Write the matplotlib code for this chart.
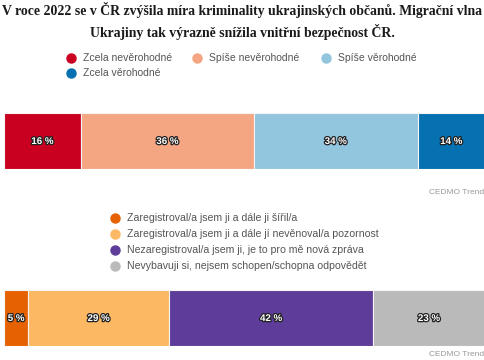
import numpy as np
import matplotlib
matplotlib.use("Agg")
from matplotlib import pyplot as plt
import matplotlib.patheffects as pe

W, H = 485, 360

title = ("V roce 2022 se v ČR zvýšila míra kriminality ukrajinských občanů. Migrační vlna\n"
         "Ukrajiny tak výrazně snížila vnitřní bezpečnost ČR.")

cats1 = ["Zcela nevěrohodné", "Spíše nevěrohodné", "Spíše věrohodné", "Zcela věrohodné"]
vals1 = [16, 36, 34, 14]
colors1 = ["#ca0020", "#f4a582", "#92c5de", "#0571b0"]

cats2 = ["Zaregistroval/a jsem ji a dále ji šířil/a",
         "Zaregistroval/a jsem ji a dále jí nevěnoval/a pozornost",
         "Nezaregistroval/a jsem ji, je to pro mě nová zpráva",
         "Nevybavuji si, nejsem schopen/schopna odpovědět"]
vals2 = [5, 29, 42, 23]
colors2 = ["#e66101", "#fdb863", "#5e3c99", "#bababa"]

source = "CEDMO Trend"

plt.rcParams['font.family'] = ['Liberation Sans', 'DejaVu Sans']

fig = plt.figure(figsize=(W / 100, H / 100), dpi=100)

# overlay axes in pixel coordinates for text and legends
ov = fig.add_axes([0, 0, 1, 1])
ov.set_xlim(0, W)
ov.set_ylim(H, 0)
ov.axis("off")

ov.text(W / 2, 21, title, ha="center", va="center", fontsize=9.9,
        fontweight="bold", family=["Liberation Serif", "DejaVu Serif"],
        linespacing=1.45, color="#1a1a1a")


def draw_bar(ax, vals, colors):
    left = 0
    for v, c in zip(vals, colors):
        ax.barh(0, v, left=left, height=1, color=c, edgecolor="#f4f4f4", linewidth=0.8)
        ax.text(left + v / 2, 0, f"{v} %", ha="center", va="center", fontsize=7,
                fontweight="bold", color="white",
                path_effects=[pe.withStroke(linewidth=1.8, foreground="#222222")])
        left += v
    # stacked bar fills the full width (shares of the answered total)
    ax.set_xlim(0, sum(vals))
    ax.set_ylim(-0.5, 0.5)
    ax.axis("off")


def bar_axes(top, bottom, x0=4, x1=485):
    return fig.add_axes([x0 / W, 1 - bottom / H, (x1 - x0) / W, (bottom - top) / H])


ax1 = bar_axes(113, 169)
draw_bar(ax1, vals1, colors1)
ax2 = bar_axes(290, 346)
draw_bar(ax2, vals2, colors2)

# legend 1
leg1_pos = [(71, 58), (197, 58), (326, 58), (71, 73)]
for (x, y), name, c in zip(leg1_pos, cats1, colors1):
    ov.plot(x, y, "o", ms=6.5, color=c, clip_on=False)
    ov.text(x + 12, y, name, ha="left", va="center", fontsize=7.5, color="#555555")

# legend 2
for i, (name, c) in enumerate(zip(cats2, colors2)):
    y = 218 + i * 16
    ov.plot(115, y, "o", ms=6.5, color=c, clip_on=False)
    ov.text(127, y, name, ha="left", va="center", fontsize=7.6, color="#555555")

ov.text(484, 192, source, ha="right", va="center", fontsize=6, color="#999999")
ov.text(484, 354, source, ha="right", va="center", fontsize=6, color="#999999")

fig.savefig("out.png", dpi=100)
